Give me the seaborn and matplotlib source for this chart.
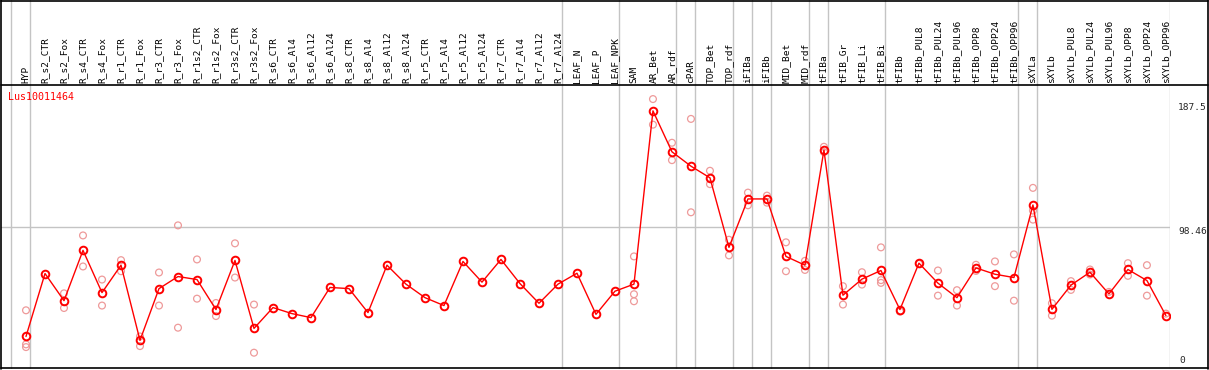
import numpy as np
import matplotlib
matplotlib.use("Agg")
import matplotlib.pyplot as plt
import matplotlib.transforms as mtransforms
from matplotlib.lines import Line2D
import seaborn as sns

# sample columns, left to right
samples = ["HYP", "R_s2_CTR", "R_s2_Fox", "R_s4_CTR", "R_s4_Fox", "R_r1_CTR", "R_r1_Fox",
           "R_r3_CTR", "R_r3_Fox", "R_r1s2_CTR", "R_r1s2_Fox", "R_r3s2_CTR", "R_r3s2_Fox",
           "R_s6_CTR", "R_s6_Al4", "R_s6_Al12", "R_s6_Al24", "R_s8_CTR", "R_s8_Al4",
           "R_s8_Al12", "R_s8_Al24", "R_r5_CTR", "R_r5_Al4", "R_r5_Al12", "R_r5_Al24",
           "R_r7_CTR", "R_r7_Al4", "R_r7_Al12", "R_r7_Al24", "LEAF_N", "LEAF_P", "LEAF_NPK",
           "SAM", "AR_Bet", "AR_rdf", "cPAR", "TOP_Bet", "TOP_rdf", "iFIBa", "iFIBb",
           "MID_Bet", "MID_rdf", "tFIBa", "tFIB_Gr", "tFIB_Li", "tFIB_Bi", "tFIBb",
           "tFIBb_PUL8", "tFIBb_PUL24", "tFIBb_PUL96", "tFIBb_OPP8", "tFIBb_OPP24",
           "tFIBb_OPP96", "sXYLa", "sXYLb", "sXYLb_PUL8", "sXYLb_PUL24", "sXYLb_PUL96",
           "sXYLb_OPP8", "sXYLb_OPP24", "sXYLb_OPP96"]

# number of columns in each tissue group (gray separators between them)
group_sizes = [1, 28, 3, 3, 1, 2, 1, 1, 2, 1, 3, 7, 1, 7]

means = [22.3, 66.1, 47.2, 82.2, 52.8, 71.9, 19.6, 55.6, 64.0, 61.9, 41.0, 75.2, 27.9,
         42.4, 38.2, 35.4, 56.4, 55.6, 38.9, 71.9, 58.7, 49.3, 43.8, 74.5, 60.1, 75.9,
         59.1, 45.4, 58.7, 66.3, 37.7, 53.8, 58.7, 179.3, 150.8, 140.8, 132.7, 84.3,
         118.0, 118.0, 78.0, 71.9, 152.0, 51.0, 62.2, 68.2, 41.0, 73.3, 59.4, 49.3,
         70.0, 65.6, 63.3, 113.8, 41.2, 58.0, 67.0, 51.9, 68.9, 61.2, 36.8]

replicates = [[40.5, 16.8, 14.9], [], [52.3, 42.1], [92.6, 71.0], [61.9, 43.8],
              [75.4, 67.7], [22.3, 15.6], [66.8, 43.8], [99.6, 28.4], [75.9, 48.6],
              [45.6, 36.5], [87.1, 63.3], [44.5, 11.0],
              [], [], [], [], [], [], [], [], [], [], [], [], [], [], [], [], [], [], [],
              [78.0, 51.7, 46.8], [187.5, 169.7], [157.1, 145.0], [173.7, 108.7],
              [137.6, 128.3], [89.6, 78.7], [122.4, 113.6], [120.3, 115.4], [87.8, 67.7],
              [74.9, 68.6], [154.3, 150.6], [57.3, 44.5], [67.0, 58.4], [84.3, 61.5, 59.6],
              [39.6], [72.8], [68.2, 50.7], [54.5, 43.8], [72.2, 67.9], [74.5, 57.3],
              [79.4, 47.2], [125.7, 103.6, 109.9], [45.4, 36.8], [60.8, 54.7],
              [68.9, 65.4], [53.3], [73.3, 64.5], [71.9, 50.7], [38.2]]

gene = "Lus10011464"
ytick_vals = [0, 98.46, 187.5]
ytick_labels = ["0", "98.46", "187.5"]

sns.set_style("white")
plt.rcParams["font.family"] = ["DejaVu Sans Mono"]
FS = 6.8

W, H = 1209, 370
fig = plt.figure(figsize=(W / 100, H / 100), dpi=100)


def box(l, t, r, b):
    return [l / W, 1 - b / H, (r - l) / W, (b - t) / H]


ax = fig.add_axes(box(1, 84.7, 1170.3, 368.5))
axl = fig.add_axes(box(1, 0, 1170.3, 84.7), sharex=ax)

xs = np.arange(len(samples))
rep_x = [i for i, r in enumerate(replicates) for v in r]
rep_y = [v for r in replicates for v in r]

# group separators
bounds = np.cumsum([0] + group_sizes) - 1 + 0.22
for a in (ax, axl):
    for b in bounds:
        a.axvline(b, color="#c4c4c4", lw=1, zorder=0)
ax.axhline(98.46, color="#c4c4c4", lw=1, zorder=0)

sns.scatterplot(x=rep_x, y=rep_y, ax=ax, marker="o", s=24, color="#ee9a9a",
                facecolor="none", edgecolor="#ee9a9a", linewidth=0.9, zorder=2)
sns.lineplot(x=xs, y=means, ax=ax, color="red", lw=1, marker="o", markersize=5.5,
             markerfacecolor="none", markeredgecolor="red", markeredgewidth=1.4, zorder=3)

ax.set_xlim(-1.316, 60.23)
ax.set_ylim(0, 197.5)
ax.axis("off")
axl.axis("off")
axl.set_ylim(0, 1)

for i, name in enumerate(samples):
    axl.text(i, 0.02, name, rotation=90, ha="center", va="bottom", fontsize=FS,
             color="black")

fig.text(8 / W, 1 - 97 / H, gene, color="red", fontsize=7.2, ha="left", va="center")

# y value labels in the right strip
tr = mtransforms.blended_transform_factory(fig.transFigure, ax.transData)
for v, lab in zip(ytick_vals, ytick_labels):
    if v == 0:
        ax.text(1179 / W, v + 2.5, lab, transform=tr, ha="left", va="bottom", fontsize=FS)
    elif v == max(ytick_vals):
        ax.text(1207 / W, v - 2.5, lab, transform=tr, ha="right", va="top", fontsize=FS)
    else:
        ax.text(1207 / W, v, lab, transform=tr, ha="right", va="top", fontsize=FS)

# outer frame and header divider
def hline(y, x0, x1):
    fig.add_artist(Line2D([x0 / W, x1 / W], [1 - y / H, 1 - y / H], color="black", lw=1.2,
                          transform=fig.transFigure))


def vline(x, y0, y1):
    fig.add_artist(Line2D([x / W, x / W], [1 - y0 / H, 1 - y1 / H], color="black", lw=1.2,
                          transform=fig.transFigure))


hline(0.6, 1, 1208)
hline(84.7, 1, 1208)
hline(368.4, 1, 1208)
vline(1.2, 0, 369)
vline(1207.6, 0, 369)

fig.savefig("out.png", dpi=100)
